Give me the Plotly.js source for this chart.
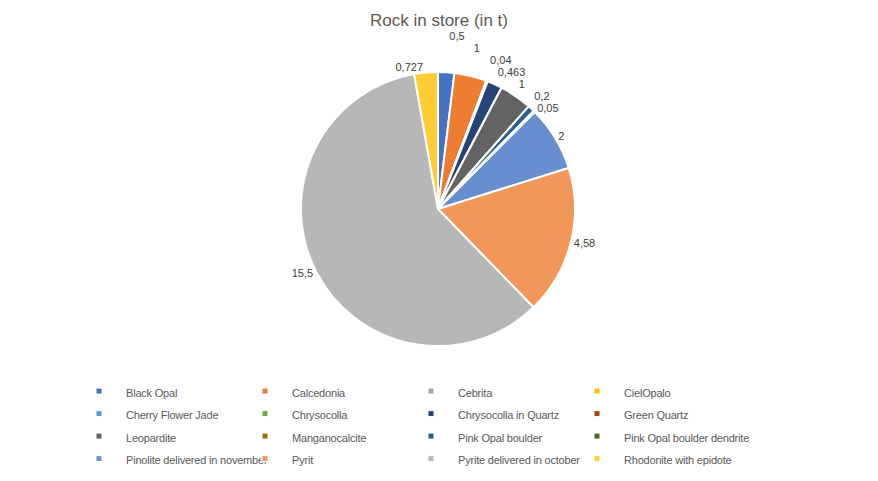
<!DOCTYPE html>
<html>
<head>
<meta charset="utf-8">
<script src="https://cdn.plot.ly/plotly-3.0.1.min.js"></script>
<style>
  html, body { margin: 0; padding: 0; background: #fff; }
  #chart { width: 878px; height: 481px; }
  /* excel draws no leader lines for these labels */
  #chart .textline { display: none; }
  /* small excel legend squares, close to the text */
  #chart .legendpie {
    transform-box: fill-box;
    transform-origin: center;
    transform: translate(13px, 0px) scale(0.5);
  }
</style>
</head>
<body>
<div id="chart"></div>
<script>
// stock per rock type, in tonnes (blank in the sheet = 0)
var rocks = ['Black Opal', 'Calcedonia', 'Cebrita', 'CielOpalo',
    'Cherry Flower Jade', 'Chrysocolla', 'Chrysocolla in Quartz', 'Green Quartz',
    'Leopardite', 'Manganocalcite', 'Pink Opal boulder', 'Pink Opal boulder dendrite',
    'Pinolite delivered in november', 'Pyrit', 'Pyrite delivered in october', 'Rhodonite with epidote'];
var tonnes = [0.5, 1, 0, 0,
    0, 0.04, 0.463, 0,
    1, 0, 0.2, 0.05,
    2, 4.58, 15.5, 0.727];
var colors = ['#4472C4', '#ED7D31', '#A5A5A5', '#FFC000',
    '#5B9BD5', '#70AD47', '#264478', '#9E480E',
    '#636363', '#997300', '#255E91', '#43682B',
    '#698ED0', '#F1975A', '#B7B7B7', '#FFCD33'];

// excel style decimal comma, nothing for empty cells
var labelsText = tonnes.map(function (v) {
    return v ? String(v).replace('.', ',') : '';
});
// legend rows are spaced from the legend font size, so the text itself is set smaller
var legendNames = rocks.map(function (r) {
    return '<span style="font-size:11px;letter-spacing:-0.2px">' + r + '</span>';
});

var W = 878, H = 481;
var plotW = 728, plotH = 373;   // plot area; legend sits below it

var trace = {
    type: 'pie',
    labels: legendNames,
    values: tonnes,
    text: labelsText,
    textinfo: 'text',
    textposition: 'outside',
    sort: false,
    direction: 'clockwise',
    rotation: 0,
    marker: {
        colors: colors,
        line: { color: '#ffffff', width: 2 }
    },
    outsidetextfont: { family: 'Liberation Sans, Arial, sans-serif', size: 11, color: '#404040' },
    domain: { x: [301 / plotW, 575 / plotW], y: [(plotH - 346) / plotH, (plotH - 72) / plotH] },
    automargin: false
};

var layout = {
    width: W,
    height: H,
    margin: { l: 0, r: W - plotW, t: 0, b: H - plotH, autoexpand: false },
    paper_bgcolor: '#ffffff',
    title: {
        text: 'Rock in store (in t)',
        font: { family: 'Liberation Sans, Arial, sans-serif', size: 17, color: '#595959' },
        x: 0.5,
        xanchor: 'center',
        y: 1 - 20 / H,
        yanchor: 'middle'
    },
    showlegend: true,
    legend: {
        orientation: 'h',
        x: 86 / plotW,
        xanchor: 'left',
        y: -0.005,
        yanchor: 'top',
        entrywidth: 121,
        entrywidthmode: 'pixels',
        traceorder: 'normal',
        font: { family: 'Liberation Sans, Arial, sans-serif', size: 15, color: '#595959' }
    }
};

Plotly.newPlot('chart', [trace], layout, { displayModeBar: false, staticPlot: true });
</script>
</body>
</html>
